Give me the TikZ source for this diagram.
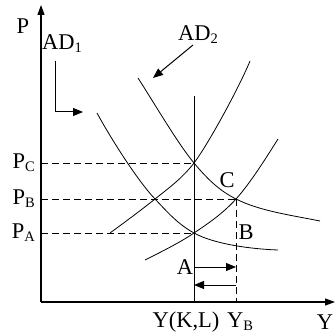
\documentclass[tikz,border=0pt]{standalone}
\usepackage{fontspec}
\setmainfont{Liberation Serif}
\usetikzlibrary{arrows.meta}
\newcommand{\lowidx}[1]{\raisebox{-0.3ex}{\fontsize{14.5}{16}\selectfont #1}}

\begin{document}
\begin{tikzpicture}[
    x=1pt, y=-1pt,
    lbl/.style={font=\fontsize{22.5}{24}\selectfont, inner sep=1pt},
    axis/.style={-{Triangle[length=10pt,width=7pt]}, line width=1.1pt},
    arr/.style={-{Triangle[length=10pt,width=8pt]}, line width=1pt},
    guide/.style={dash pattern=on 7pt off 4pt, line width=0.7pt},
    curve/.style={line width=0.8pt}
    ]
    \useasboundingbox (0,0) rectangle (335,336);

    % axes
    \coordinate (O) at (41,302);
    \coordinate (ytop) at (41,5);
    \coordinate (xend) at (335,302);
    \draw[axis] (O) -- (ytop);
    \draw[axis] (O) -- (xend);

    % intersections
    \coordinate (E) at (194,163);
    \coordinate (C) at (236,199);
    \coordinate (F) at (155,199);
    \coordinate (A) at (194,233);
    \coordinate (ytopY) at (194,96);

    % AD1
    \draw[curve] (97,113) .. controls (110,137) and (137,180) .. (F)
      .. controls (168,212.7) and (178,224.2) .. (A)
      .. controls (214,244) and (250,249) .. (278,250);
    % AD2
    \draw[curve] (138,78) .. controls (156,106) and (178,143.8) .. (E)
      .. controls (208,179.8) and (220,191) .. (C)
      .. controls (260,211) and (290,215) .. (320,221);
    % AS1
    \draw[curve] (110,233) .. controls (125,222) and (140,211) .. (F)
      .. controls (168,188.6) and (182,178.6) .. (E)
      .. controls (207,146) and (238,90) .. (250,61);
    % AS2
    \draw[curve] (145,260) .. controls (161,252) and (180,242.5) .. (A)
      .. controls (208,223.5) and (222,214.4) .. (C)
      .. controls (250,183.6) and (266,158) .. (278,139);

    % Y(K,L) line and dashed guides
    \draw[curve] (ytopY) -- (O -| ytopY);
    \draw[guide] (O |- E) -- (E);
    \draw[guide] (O |- C) -- (C);
    \draw[guide] (O |- A) -- (A);
    \draw[guide] (C) -- (O -| C);

    % labels
    \node[lbl] (P) at (23,26) {P};
    \node[lbl, anchor=east] (pc) at ([xshift=-5pt]O |- E) {P\lowidx{C}};
    \node[lbl, anchor=east] (pb) at ([xshift=-5pt]O |- C) {P\lowidx{B}};
    \node[lbl, anchor=east] (pa) at ([xshift=-5pt]O |- A) {P\lowidx{A}};
    \node[lbl, anchor=west] (ad1) at (41,44) {AD\lowidx{1}};
    \node[lbl] (ad2) at (198,35) {AD\lowidx{2}};
    \node[lbl] (lc) at (227,180) {C};
    \node[lbl] (lb) at (246,232) {B};
    \node[lbl] (la) at (185,267) {A};
    \node[lbl] (ykl) at (186,322) {Y(K,L)};
    \node[lbl] (yb) at (240,322) {Y\lowidx{B}};
    \node[lbl] (yy) at (325,322) {Y};

    % pointer arrows
    \coordinate (k1) at (55,61);
    \coordinate (k2) at (55,112);
    \coordinate (k3) at (83,112);
    \draw[arr] (k1) -- (k2) -- (k3);
    \coordinate (m1) at (193,45);
    \coordinate (m2) at (153,78);
    \draw[arr] (m1) -- (m2);

    % shift arrows
    \coordinate (s1) at (194,267);
    \coordinate (s2) at (236,267);
    \coordinate (s3) at (236,285);
    \coordinate (s4) at (194,285);
    \draw[arr] (s1) -- (s2);
    \draw[arr] (s3) -- (s4);
\end{tikzpicture}
\end{document}
